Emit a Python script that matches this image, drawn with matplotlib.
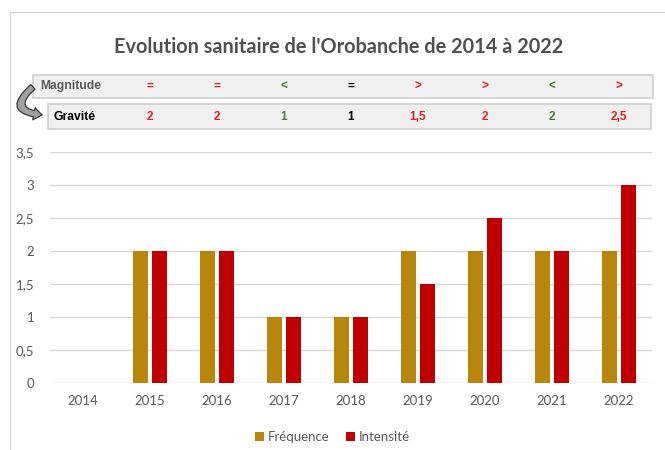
import matplotlib
matplotlib.use("Agg")
import matplotlib.pyplot as plt
from matplotlib.patches import Rectangle, FancyArrowPatch
from matplotlib.lines import Line2D
import matplotlib.transforms as mtransforms
import numpy as np

plt.rcParams['font.family'] = ['Lato', 'DejaVu Sans']

years = ["2014", "2015", "2016", "2017", "2018", "2019", "2020", "2021", "2022"]
frequence = [0, 2, 2, 1, 1, 2, 2, 2, 2]
intensite = [0, 2, 2, 1, 1, 1.5, 2.5, 2, 3]
magnitude = ["=", "=", "<", "=", ">", ">", "<", ">"]
magnitude_colors = ["#E02020", "#E02020", "#4F7A28", "#000000", "#E02020", "#E02020", "#4F7A28", "#E02020"]
gravite = ["2", "2", "1", "1", "1,5", "2", "2", "2,5"]
gravite_colors = ["#E02020", "#E02020", "#4F7A28", "#000000", "#E02020", "#E02020", "#4F7A28", "#E02020"]
yticks = [0, 0.5, 1, 1.5, 2, 2.5, 3, 3.5]
ytick_labels = ["0", "0,5", "1", "1,5", "2", "2,5", "3", "3,5"]

W, H = 665, 450
fig = plt.figure(figsize=(6.65, 4.5), dpi=100)

def fx(px):
    return px / W

def fy(py):
    return 1 - py / H

# chart frame
fig.add_artist(Line2D([fx(10), fx(10)], [fy(12), 0], color="#D9D9D9", lw=1))
fig.add_artist(Line2D([fx(10), 1], [fy(12), fy(12)], color="#D9D9D9", lw=1))

ax = fig.add_axes([fx(49.5), fy(382.7), fx(652) - fx(49.5), fy(151.7) - fy(382.7)])
x = np.arange(len(years))
bw = 0.224
off = 0.142
ax.bar(x - off, frequence, width=bw, color="#B8860B", label="Fréquence", zorder=3)
ax.bar(x + off, intensite, width=bw, color="#C00000", label="Intensité", zorder=3)
ax.set_xlim(-0.5, len(years) - 0.5)
ax.set_ylim(0, 3.5)
ax.set_yticks(yticks)
ax.set_yticklabels(ytick_labels)
ax.set_xticks(x)
ax.set_xticklabels(years)
ax.yaxis.grid(True, color="#D9D9D9", lw=1, zorder=0)
for s in ax.spines.values():
    s.set_visible(False)
ax.tick_params(axis="both", length=0, labelsize=9.5, labelcolor="#595959")
ax.tick_params(axis="y", pad=11)
ax.tick_params(axis="x", pad=9)

leg = ax.legend(loc="center", bbox_to_anchor=(0.5, fy(437)), bbox_transform=fig.transFigure,
                ncol=2, frameon=False, fontsize=9.5, handlelength=0.7, handleheight=0.7,
                handletextpad=0.3, columnspacing=1.2)
for t in leg.get_texts():
    t.set_color("#595959")

# title
fig.text(fx(339), fy(47), "Evolution sanitaire de l'Orobanche de 2014 à 2022",
         ha="center", va="center", fontsize=14.3, fontweight="bold", color="#505050")

# table rows
fig.add_artist(Rectangle((fx(33), fy(98)), fx(653) - fx(33), fy(75) - fy(98),
                         facecolor="#F0F0F0", edgecolor="#CFCFCF", lw=1.2))
fig.add_artist(Rectangle((fx(48), fy(129)), fx(651) - fx(48), fy(104) - fy(129),
                         facecolor="#F0F0F0", edgecolor="#CFCFCF", lw=1.2))
fig.text(fx(40), fy(86.5), "Magnitude", ha="left", va="center", fontsize=8.7,
         fontweight="bold", color="#595959", family=["Liberation Sans"])
fig.text(fx(53), fy(117), "Gravité", ha="left", va="center", fontsize=8.7,
         fontweight="bold", color="#000000", family=["Liberation Sans"])

trans = mtransforms.blended_transform_factory(ax.transData, fig.transFigure)
for i, (m, mc, g, gc) in enumerate(zip(magnitude, magnitude_colors, gravite, gravite_colors)):
    xi = x[i + 1]
    fig.text(xi, fy(86.5), m, transform=trans, ha="center", va="center", fontsize=8.5,
             fontweight="bold", color=mc, family=["Liberation Sans"])
    fig.text(xi, fy(117), g, transform=trans, ha="center", va="center", fontsize=8.5,
             fontweight="bold", color=gc, family=["Liberation Sans"])

# curved arrow
arrow = FancyArrowPatch((fx(35), fy(85)), (fx(45), fy(115)), transform=fig.transFigure,
                        connectionstyle="arc3,rad=1.25",
                        arrowstyle="simple,head_width=9,head_length=6,tail_width=4.5",
                        facecolor="#A0A0A0", edgecolor="#3A3A3A", lw=0.9)
fig.add_artist(arrow)

fig.savefig("out.png", dpi=100)
